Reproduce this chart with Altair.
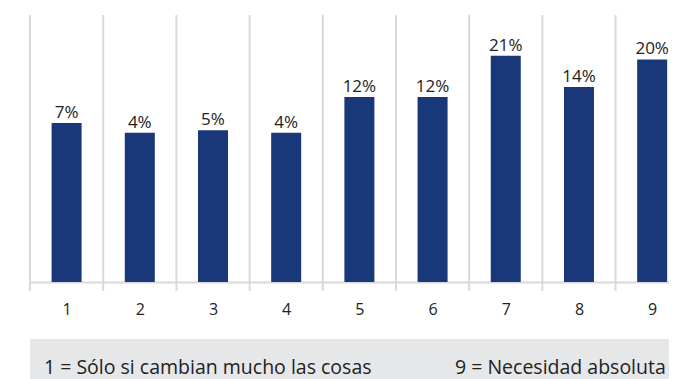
import altair as alt
import pandas as pd

# ---- data ----
categories = [1, 2, 3, 4, 5, 6, 7, 8, 9]
values = [6.2, 4.0, 4.6, 4.0, 11.9, 11.9, 21.0, 14.1, 20.2]   # bar heights (%)
labels = ["7%", "4%", "5%", "4%", "12%", "12%", "21%", "14%", "20%"]
legend_left = ["1 = Sólo si cambian mucho las cosas"]
legend_right = ["9 = Necesidad absoluta"]

# ---- style ----
NAVY = "#18387a"
GRID = "#d9d9d9"
TEXT = "#222222"
BOX = "#e6e7e9"
FONT = "Open Sans"

Y_MIN, Y_MAX = -28.9, 30.0
X_MIN, X_MAX = 0.5, 9.23   # right side of the chart is cut off in the reference

df = pd.DataFrame({"cat": categories, "value": values, "label": labels})
grid_df = pd.DataFrame({"b": [c - 0.5 for c in categories]})

x_scale = alt.Scale(domain=[X_MIN, X_MAX], nice=False, zero=False, padding=0)
y_scale = alt.Scale(domain=[Y_MIN, Y_MAX], zero=False, nice=False, padding=0)

x_axis = alt.Axis(title=None, grid=False, ticks=False, values=categories,
                  domainColor=GRID, domainWidth=2, labelAngle=0,
                  labelFont=FONT, labelFontSize=16, labelColor=TEXT,
                  labelBaseline="alphabetic", labelPadding=32,
                  labelFlush=False, labelOverlap=False)

grid = alt.Chart(grid_df).mark_rule(color=GRID, strokeWidth=2).encode(
    x=alt.X("b:Q", scale=x_scale, axis=x_axis),
    y=alt.value(0),
    y2=alt.value(276),
)

bars = alt.Chart(df).mark_bar(color=NAVY, size=30).encode(
    x=alt.X("cat:Q", scale=x_scale, axis=x_axis),
    y=alt.Y("value:Q", scale=y_scale, axis=None),
    y2=alt.datum(Y_MIN),
)

text = alt.Chart(df).mark_text(font=FONT, fontSize=17, color=TEXT,
                               baseline="alphabetic", dy=-5).encode(
    x=alt.X("cat:Q", scale=x_scale, axis=x_axis),
    y=alt.Y("value:Q", scale=y_scale, axis=None),
    text="label:N",
)

box = alt.Chart(pd.DataFrame({"t": legend_left})).mark_rect(color=BOX).encode(
    x=alt.value(0), x2=alt.value(700), y=alt.value(324), y2=alt.value(400)
)

leg1 = alt.Chart(pd.DataFrame({"t": legend_left})).mark_text(
    font=FONT, fontSize=19.5, color=TEXT, align="left", baseline="alphabetic"
).encode(x=alt.value(14), y=alt.value(359), text="t:N")

leg2 = alt.Chart(pd.DataFrame({"t": legend_right})).mark_text(
    font=FONT, fontSize=19.5, color=TEXT, align="left", baseline="alphabetic"
).encode(x=alt.value(425), y=alt.value(359), text="t:N")

chart = alt.layer(grid, bars, text, box, leg1, leg2).properties(
    width=639, height=267,
    autosize=alt.AutoSizeParams(type="none"),
    padding={"left": 22, "top": 7, "right": 0, "bottom": 97},
).configure_view(stroke=None)

chart.save("out.html", embed_options={"renderer": "svg", "actions": False})
